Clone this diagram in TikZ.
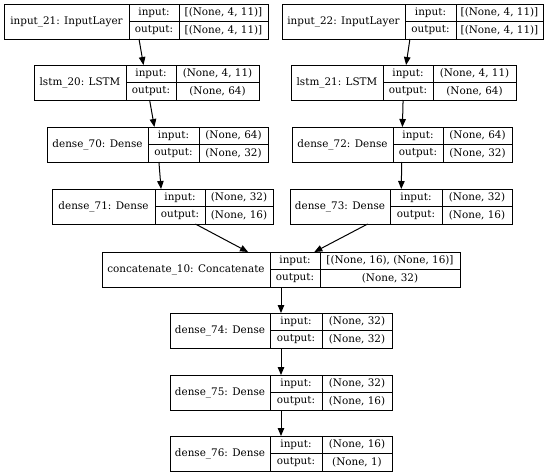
\documentclass[tikz,border=0pt]{standalone}
\usepackage{fontspec}
\setmainfont{DejaVu Serif}
\usetikzlibrary{arrows.meta}

\begin{document}
\begin{tikzpicture}[x=1pt, y=-1pt, line width=0.8pt,
    layer/.style={draw, inner sep=0pt, outer sep=0pt, minimum height=35pt},
    txt/.style={font=\fontsize{10.4}{12}\selectfont, inner sep=0pt},
    edge/.style={-{Triangle[length=8pt, width=6.5pt]}, line width=1pt}]
    \useasboundingbox (0,0) rectangle (550,475);

    % Schichten: Name / Trennlinien / Ein- und Ausgabe
    \foreach \id/\l/\a/\b/\r/\t/\name/\vin/\vout in {
        in21/4/129/179/268/4/{input\_21: InputLayer}/{[(None, 4, 11)]}/{[(None, 4, 11)]},
        in22/282/405/456/543/4/{input\_22: InputLayer}/{[(None, 4, 11)]}/{[(None, 4, 11)]},
        lstm20/34/126/176/259/65/{lstm\_20: LSTM}/{(None, 4, 11)}/{(None, 64)},
        lstm21/291/383/433/516/65/{lstm\_21: LSTM}/{(None, 4, 11)}/{(None, 64)},
        d70/47/148/199/268/127/{dense\_70: Dense}/{(None, 64)}/{(None, 32)},
        d72/292/393/443/512/127/{dense\_72: Dense}/{(None, 64)}/{(None, 32)},
        d71/52/155/205/273/189/{dense\_71: Dense}/{(None, 32)}/{(None, 16)},
        d73/290/390/442/512/189/{dense\_73: Dense}/{(None, 32)}/{(None, 16)},
        cat10/102/270/320/460/252/{concatenate\_10: Concatenate}/{[(None, 16), (None, 16)]}/{(None, 32)},
        d74/170/270/322/392/313/{dense\_74: Dense}/{(None, 32)}/{(None, 32)},
        d75/170/270/322/392/375/{dense\_75: Dense}/{(None, 32)}/{(None, 16)},
        d76/170/270/322/392/436/{dense\_76: Dense}/{(None, 16)}/{(None, 1)}} {
        \node[layer, minimum width={\r-\l}] (\id) at ({(\l+\r)/2}, \t+17.5) {};
        \draw (\a, \t) -- (\a, \t+35);
        \draw (\b, \t) -- (\b, \t+35);
        \draw (\a, \t+17.5) -- (\r, \t+17.5);
        \node[txt] at ({(\l+\a)/2}, \t+17.5) {\name};
        \node[txt] at ({(\a+\b)/2}, \t+8.75) {input:};
        \node[txt] at ({(\a+\b)/2}, \t+26.25) {output:};
        \node[txt] at ({(\b+\r)/2}, \t+8.75) {\vin};
        \node[txt] at ({(\b+\r)/2}, \t+26.25) {\vout};
    }

    % linker Zweig
    \draw[edge] (in21) -- (lstm20);
    \draw[edge] (lstm20) -- (d70);
    \draw[edge] (d70) -- (d71);
    \draw[edge] (d71) -- (cat10);

    % rechter Zweig
    \draw[edge] (in22) -- (lstm21);
    \draw[edge] (lstm21) -- (d72);
    \draw[edge] (d72) -- (d73);
    \draw[edge] (d73) -- (cat10);

    % gemeinsamer Ausgang
    \draw[edge] (cat10) -- (d74);
    \draw[edge] (d74) -- (d75);
    \draw[edge] (d75) -- (d76);
\end{tikzpicture}
\end{document}
